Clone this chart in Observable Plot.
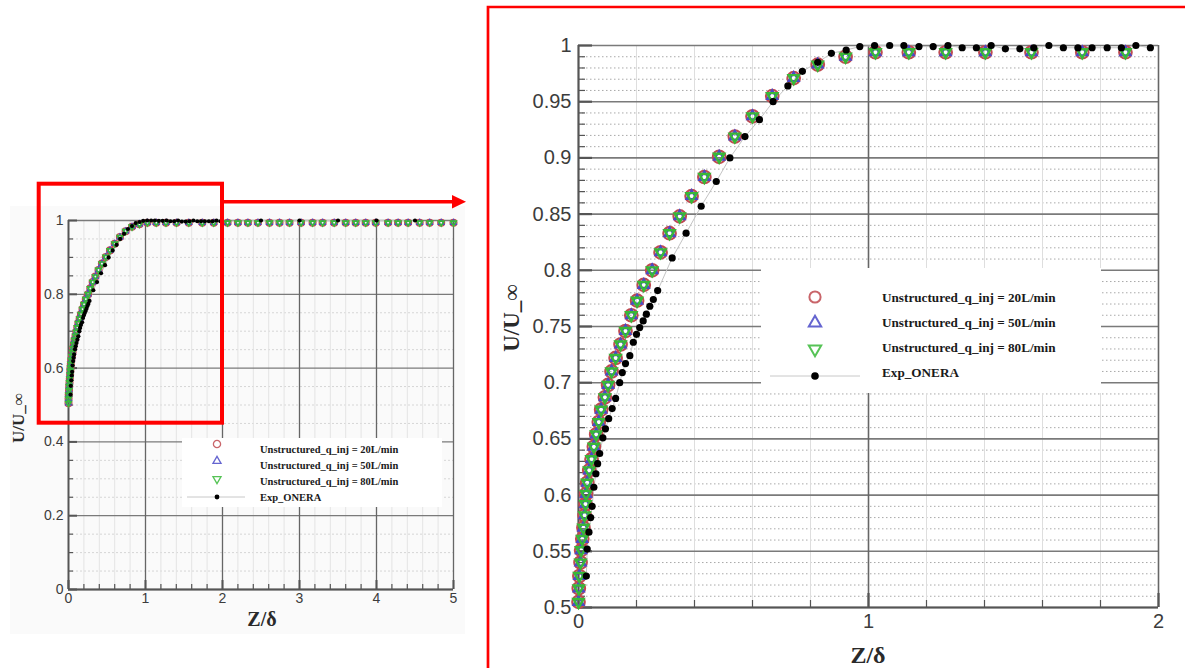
<!DOCTYPE html>
<html><head><meta charset="utf-8">
<script src="https://cdn.jsdelivr.net/npm/d3@7"></script>
<script src="https://cdn.jsdelivr.net/npm/@observablehq/plot@0.6"></script>
<style>
html,body{margin:0;padding:0;background:#fff;}
#root{position:relative;width:1185px;height:668px;overflow:hidden;background:#fff;font-family:"Liberation Sans",Arial,sans-serif;}
.abs{position:absolute;}
.ttl{position:absolute;font-family:"Liberation Serif","Times New Roman",serif;font-weight:bold;color:#2a2a2a;white-space:nowrap;}
</style></head><body>
<div id="root"></div>
<script>
// ---------- data ----------
const simZ = [0.000,0.001,0.003,0.007,0.009,0.013,0.017,0.021,0.024,0.026,0.030,0.037,0.045,0.053,0.061,0.070,0.078,0.091,0.102,0.114,0.128,0.145,0.162,0.182,0.202,0.225,0.254,0.283,0.314,0.349,0.390,0.434,0.485,0.539,0.600,0.668,0.742,0.825,0.921,1.024,1.139,1.266,1.403,1.562,1.737,1.886,2.066,2.20,2.33,2.46,2.61,2.74,2.87,3.02,3.17,3.30,3.45,3.60,3.73,3.86,3.99,4.15,4.28,4.41,4.56,4.69,4.84,5.00];
const simU20 = [0.505,0.517,0.528,0.540,0.551,0.561,0.571,0.582,0.592,0.601,0.611,0.622,0.632,0.643,0.654,0.665,0.676,0.687,0.698,0.710,0.722,0.734,0.746,0.760,0.773,0.787,0.800,0.816,0.833,0.848,0.866,0.883,0.901,0.919,0.937,0.955,0.971,0.983,0.990,0.994,0.994,0.994,0.994,0.994,0.994,0.994,0.994,0.994,0.994,0.994,0.994,0.994,0.994,0.994,0.994,0.994,0.994,0.994,0.994,0.994,0.994,0.994,0.994,0.994,0.994,0.994,0.994,0.994];
const simU50 = [0.505,0.517,0.528,0.540,0.551,0.561,0.571,0.582,0.592,0.601,0.611,0.622,0.632,0.643,0.654,0.665,0.676,0.687,0.698,0.710,0.722,0.734,0.746,0.760,0.773,0.787,0.800,0.816,0.833,0.848,0.866,0.883,0.901,0.919,0.937,0.955,0.971,0.983,0.990,0.994,0.994,0.994,0.994,0.994,0.994,0.994,0.994,0.994,0.994,0.994,0.994,0.994,0.994,0.994,0.994,0.994,0.994,0.994,0.994,0.994,0.994,0.994,0.994,0.994,0.994,0.994,0.994,0.994];
const simU80 = [0.505,0.517,0.528,0.540,0.551,0.561,0.571,0.582,0.592,0.601,0.611,0.622,0.632,0.643,0.654,0.665,0.676,0.687,0.698,0.710,0.722,0.734,0.746,0.760,0.773,0.787,0.800,0.816,0.833,0.848,0.866,0.883,0.901,0.919,0.937,0.955,0.971,0.983,0.990,0.994,0.994,0.994,0.994,0.994,0.994,0.994,0.994,0.994,0.994,0.994,0.994,0.994,0.994,0.994,0.994,0.994,0.994,0.994,0.994,0.994,0.994,0.994,0.994,0.994,0.994,0.994,0.994,0.994];
const expZ = [0.027,0.030,0.036,0.042,0.047,0.053,0.060,0.066,0.073,0.084,0.093,0.104,0.116,0.128,0.142,0.151,0.162,0.177,0.189,0.200,0.211,0.223,0.234,0.246,0.258,0.273,0.323,0.371,0.423,0.475,0.522,0.574,0.624,0.671,0.722,0.772,0.825,0.872,0.923,0.970,1.021,1.073,1.122,1.174,1.223,1.274,1.323,1.372,1.423,1.472,1.522,1.570,1.622,1.672,1.722,1.771,1.823,1.872,1.922,1.972,2.5,3.0,3.5,4.0,4.5];
const expU = [0.528,0.552,0.567,0.580,0.590,0.607,0.619,0.628,0.637,0.651,0.659,0.668,0.677,0.686,0.700,0.709,0.717,0.724,0.736,0.743,0.749,0.755,0.761,0.768,0.774,0.782,0.811,0.833,0.857,0.879,0.900,0.919,0.934,0.950,0.964,0.977,0.985,0.993,0.996,0.999,1.000,1.000,1.000,0.999,0.999,1.000,0.998,0.998,1.000,0.997,0.997,0.998,1.000,0.998,0.998,0.998,0.998,0.998,1.000,0.998,1.000,1.000,1.000,1.000,1.000];
const seriesNames = ["Unstructured_q_inj = 20L/min","Unstructured_q_inj = 50L/min","Unstructured_q_inj = 80L/min","Exp_ONERA"];
const leftXTicks = [0,1,2,3,4,5];
const leftYTicks = [0,0.2,0.4,0.6,0.8,1];
const rightXTicks = [0,1,2];
const rightYTicks = [0.5,0.55,0.6,0.65,0.7,0.75,0.8,0.85,0.9,0.95,1];
const xTitle = "Z/δ";
const yTitle = "U/U_∞";

// ---------- tables ----------
const sim20 = simZ.map((z,i)=>({z, u: simU20[i]}));
const sim50 = simZ.map((z,i)=>({z, u: simU50[i]}));
const sim80 = simZ.map((z,i)=>({z, u: simU80[i]}));
const exp = expZ.map((z,i)=>({z, u: expU[i]}));

const COL = {red:"#c04a50", blue:"#4a4ac8", green:"#38b838", black:"#000"};
const triDown = {draw(ctx, size){const s3=Math.sqrt(3);const y=-Math.sqrt(size/(s3*3));ctx.moveTo(0,-y*2);ctx.lineTo(-s3*y,y);ctx.lineTo(s3*y,y);ctx.closePath();}};
const fmt = d => String(+d.toFixed(2));

const root = document.getElementById("root");

// faint background of the left picture
const bg = document.createElement("div");
bg.className="abs"; Object.assign(bg.style,{left:"10px",top:"206px",width:"455px",height:"428px",background:"#fafafa"});
root.appendChild(bg);

function chart(o){
  const pw = o.width - o.ml - o.mr, ph = o.height - o.mt - o.mb;
  const [x0,x1] = o.xd, [y0,y1] = o.yd;
  const keep = d => d.z <= x1 + 1e-9 && d.u >= y0;
  const minorX = d3.range(Math.round(x0/o.mxs), Math.round(x1/o.mxs)+1).map(k=>+(k*o.mxs).toFixed(4)).filter(v=>!o.xt.some(t=>Math.abs(t-v)<1e-6));
  const minorY = d3.range(Math.round(y0/o.mys), Math.round(y1/o.mys)+1).map(k=>+(k*o.mys).toFixed(4)).filter(v=>!o.yt.some(t=>Math.abs(t-v)<1e-6));
  return Plot.plot({
    width:o.width, height:o.height, marginLeft:o.ml, marginRight:o.mr, marginTop:o.mt, marginBottom:o.mb,
    x:{domain:o.xd}, y:{domain:o.yd},
    style:{background:"transparent", fontFamily:"'Liberation Sans', Arial, sans-serif", fontSize:o.fs+"px", color:"#3c3c3c", overflow:"visible"},
    marks:[
      Plot.ruleY(minorY,{stroke:o.minYc, strokeDasharray:o.minYdash, strokeWidth:1}),
      Plot.ruleX(minorX,{stroke:o.minXc, strokeWidth:1}),
      Plot.ruleY(o.yt,{stroke:"#7a7a7a", strokeWidth:o.majW}),
      Plot.ruleX(o.xt.filter(v=>v>x0),{stroke:"#666", strokeWidth:o.majW}),
      Plot.tickY(minorY,{insetRight:pw-o.tminor, stroke:"#555", strokeWidth:1.2}),
      Plot.tickY(o.yt,{insetRight:pw-o.tmajor, stroke:"#555", strokeWidth:o.axW}),
      Plot.tickX(minorX,{insetTop:ph-o.tminor, stroke:"#555", strokeWidth:1.2}),
      Plot.tickX(o.xt,{insetTop:ph-o.tmajor, stroke:"#555", strokeWidth:o.axW}),
      Plot.ruleX([x0],{stroke:"#555", strokeWidth:o.axW}),
      Plot.ruleY([y0],{stroke:"#555", strokeWidth:o.axW}),
      Plot.axisX(o.xt,{tickSize:0, tickPadding:o.xpad, label:null, tickFormat:fmt}),
      Plot.axisY(o.yt,{tickSize:0, tickPadding:o.ypad, label:null, tickFormat:fmt}),
      Plot.line(exp,{x:"z", y:"u", filter:keep, stroke:"#c4c4c4", strokeWidth:1}),
      Plot.dot(sim20,{x:"z", y:"u", filter:keep, symbol:"circle", r:o.rc, stroke:COL.red, strokeWidth:o.sw}),
      Plot.dot(sim50,{x:"z", y:"u", filter:keep, symbol:"triangle", r:o.rt, stroke:COL.blue, strokeWidth:o.sw}),
      Plot.dot(sim80,{x:"z", y:"u", filter:keep, symbol:triDown, r:o.rt, stroke:COL.green, strokeWidth:o.sw+0.3}),
      Plot.dot(exp,{x:"z", y:"u", filter:keep, r:o.rd, fill:COL.black, stroke:"none"})
    ]
  });
}

const left = chart({width:470,height:460,ml:68,mr:17,mt:40,mb:51,xd:[0,5],yd:[0,1],xt:leftXTicks,yt:leftYTicks,
  mxs:0.2,mys:0.05,fs:14,xpad:4,ypad:5,tminor:5,tmajor:9,majW:1.3,axW:2,
  minYc:"#d6d6d6",minYdash:"2,2",minXc:"#e4e4e4",rc:3.4,rt:2.1,rd:2.1,sw:1.3});
left.style.position="absolute"; left.style.left="0px"; left.style.top="180px";
root.appendChild(left);

const right = chart({width:690,height:658,ml:88,mr:22,mt:35,mb:61,xd:[0,2],yd:[0.5,1],xt:rightXTicks,yt:rightYTicks,
  mxs:0.2,mys:0.01,fs:20,xpad:6,ypad:7,tminor:7,tmajor:14,majW:1.6,axW:2.2,
  minYc:"#a9a9a9",minYdash:"1.5,2.5",minXc:"#dedede",rc:6.3,rt:3.8,rd:3.6,sw:2.1});
right.style.position="absolute"; right.style.left="490px"; right.style.top="10px";
root.appendChild(right);

// ---------- titles ----------
function title(txt, x, y, size, rot){
  const d = document.createElement("div");
  d.className="ttl"; d.textContent = txt;
  Object.assign(d.style,{left:x+"px",top:y+"px",fontSize:size+"px",transform:`translate(-50%,-50%) rotate(${rot||0}deg)`});
  root.appendChild(d);
}
title(xTitle, 262, 619, 20, 0);
title(yTitle, 19, 418, 17, -90);
title(xTitle, 868, 655, 24, 0);
title(yTitle, 512, 318, 23, -90);

// ---------- legends ----------
function legend(o){
  const svg = d3.select(root).append("svg").attr("class","abs")
    .style("left",o.x+"px").style("top",o.y+"px").attr("width",o.w).attr("height",o.h);
  svg.append("rect").attr("width",o.w).attr("height",o.h).attr("fill","#fff");
  const sx = o.sx - o.x;
  const sym = [
    d3.symbol(d3.symbolCircle, Math.PI*o.rc*o.rc)(),
    d3.symbol(d3.symbolTriangle, Math.PI*o.rt*o.rt)(),
    d3.symbol(triDown, Math.PI*o.rt*o.rt)()
  ];
  const cols=[COL.red,COL.blue,COL.green];
  for(let i=0;i<3;i++){
    svg.append("path").attr("d",sym[i]).attr("transform",`translate(${sx},${o.sy[i]-o.y})`)
      .attr("fill","none").attr("stroke",cols[i]).attr("stroke-width",o.sw).attr("stroke-opacity",0.85);
  }
  svg.append("line").attr("x1",o.lx[0]-o.x).attr("x2",o.lx[1]-o.x).attr("y1",o.sy[3]-o.y).attr("y2",o.sy[3]-o.y)
    .attr("stroke","#c8c8c8").attr("stroke-width",1);
  svg.append("circle").attr("cx",sx).attr("cy",o.sy[3]-o.y).attr("r",o.rd).attr("fill","#000");
  seriesNames.forEach((n,i)=>{
    svg.append("text").attr("x",o.tx-o.x).attr("y",o.ty[i]-o.y).attr("dy","0.35em")
      .attr("font-family","'Liberation Serif','Times New Roman',serif").attr("font-weight","bold")
      .attr("font-size",o.fs).attr("fill","#1a1a1a").text(n);
  });
}
legend({x:182,y:438,w:260,h:69,sx:217,sy:[444,461,479,497],lx:[187,245],tx:260,ty:[449,465,481,497],fs:10.5,rc:3.6,rt:3,rd:2.4,sw:1.3});
legend({x:761,y:268,w:340,h:125,sx:815,sy:[297,323,349,376],lx:[770,860],tx:882,ty:[297,322,347,372],fs:13.2,rc:5.6,rt:4.6,rd:3.8,sw:2});

// ---------- red zoom boxes and arrow ----------
const ov = d3.select(root).append("svg").attr("class","abs").style("left","0px").style("top","0px")
  .attr("width",1185).attr("height",668).style("pointer-events","none");
ov.append("rect").attr("x",38.7).attr("y",183.7).attr("width",183.3).attr("height",239).attr("fill","none").attr("stroke","#ff0000").attr("stroke-width",4);
ov.append("line").attr("x1",224).attr("x2",455).attr("y1",201.7).attr("y2",201.7).attr("stroke","#ff0000").attr("stroke-width",3.5);
ov.append("path").attr("d","M452,195 L466,201.7 L452,208.4 Z").attr("fill","#ff0000");
ov.append("path").attr("d","M488,668 L488,7 L1185,7").attr("fill","none").attr("stroke","#ff0000").attr("stroke-width",2.7);
</script>
</body></html>
